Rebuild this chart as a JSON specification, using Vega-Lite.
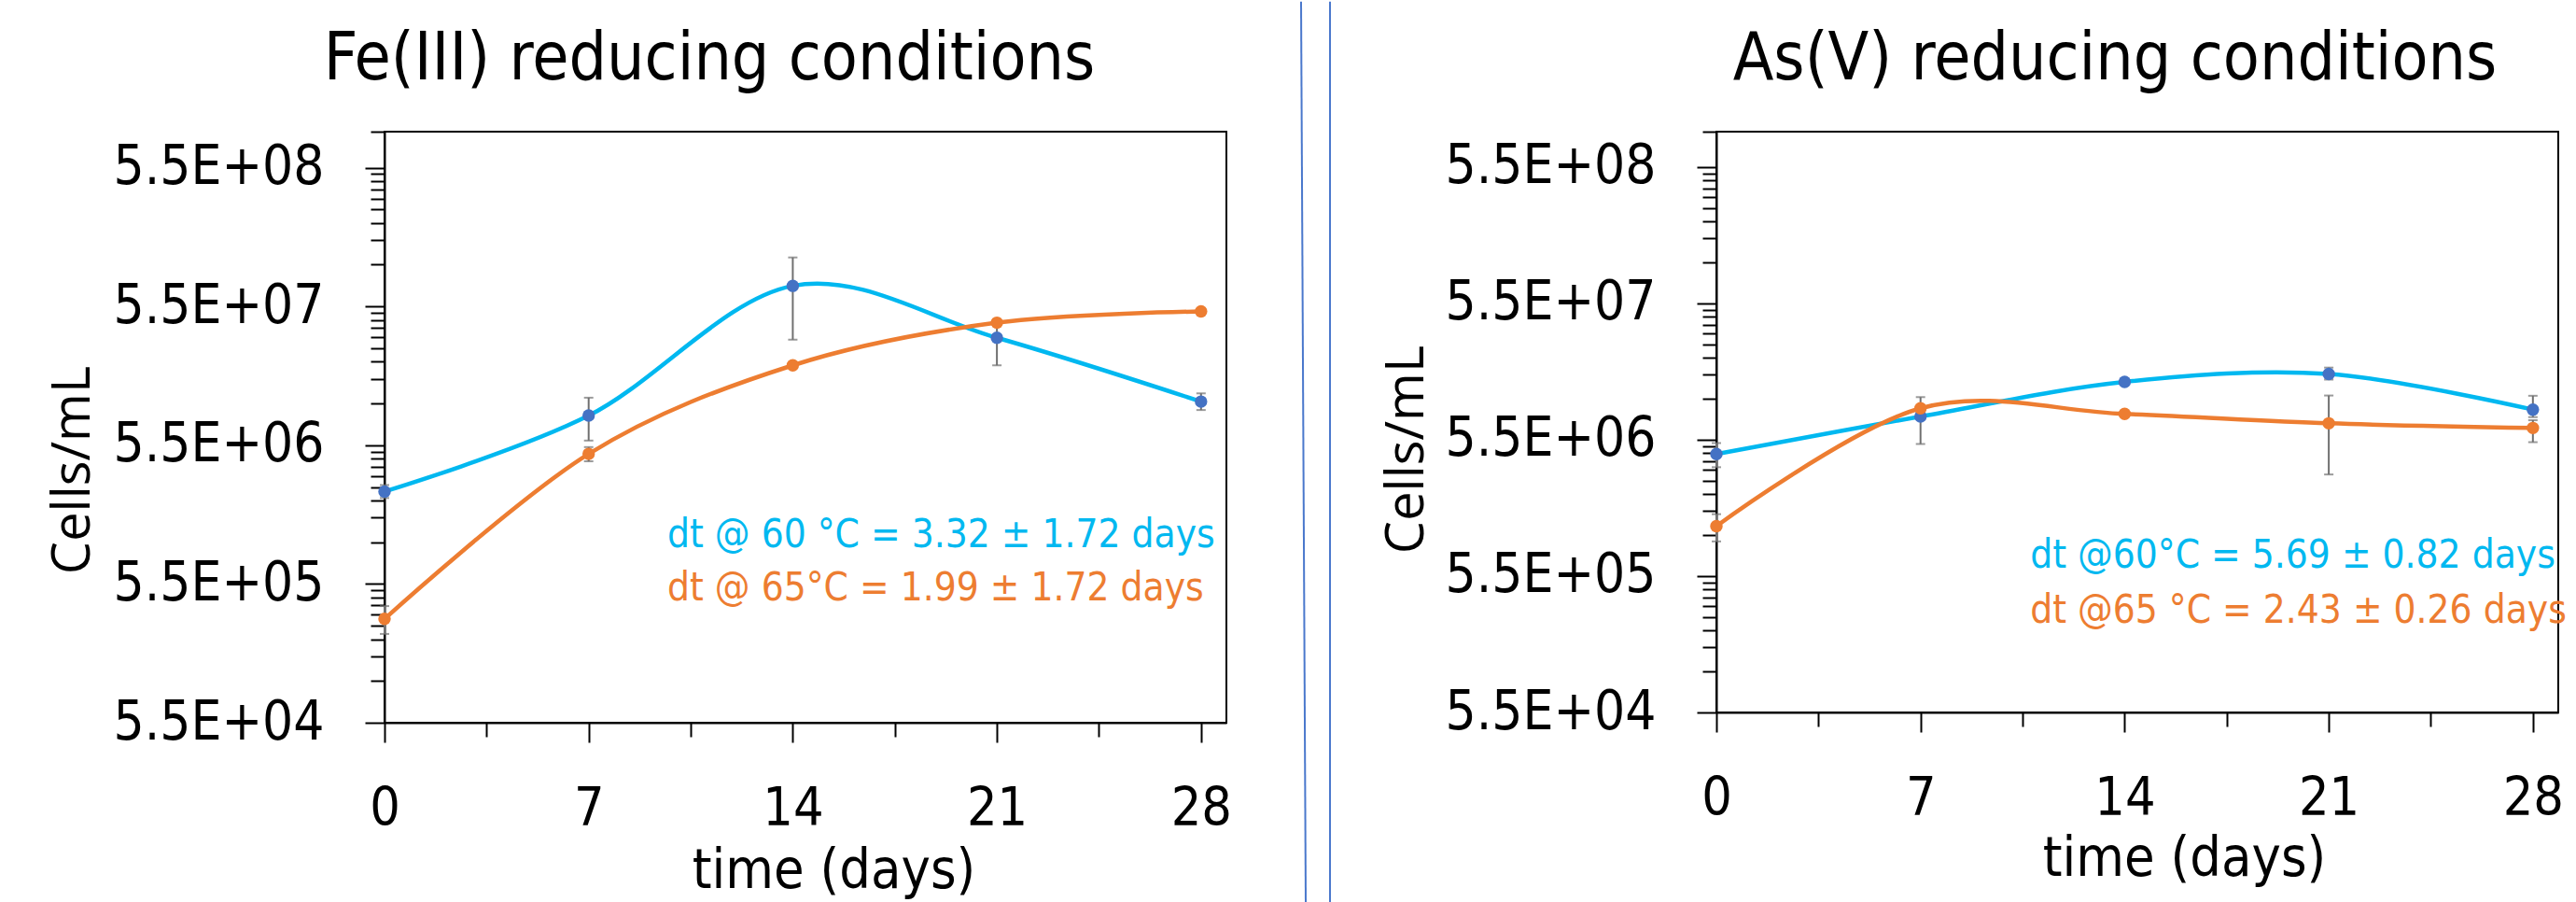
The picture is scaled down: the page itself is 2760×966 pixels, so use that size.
{
  "$schema": "https://vega.github.io/schema/vega-lite/v6.json",
  "background": "white",
  "padding": {"left": 49, "top": 0, "right": 0, "bottom": 0},
  "config": {
    "font": "DejaVu Sans Condensed",
    "view": {"stroke": "black", "strokeWidth": 2},
    "axis": {"grid": false, "domainColor": "black", "domainWidth": 2, "tickColor": "black", "tickWidth": 2, "labelColor": "black", "titleColor": "black", "labelFont": "DejaVu Sans Condensed", "labelFontSize": 56, "labelLimit": 500, "labelFlush": false, "labelOverlap": false, "titleFontWeight": "normal"},
    "title": {"fontWeight": "normal", "color": "black"},
    "concat": {"spacing": 20}
  },
  "datasets": {
    "fe": [
      {"temp": "60", "day": 0, "cells": 2550000, "lo": 2290000, "hi": 2840000},
      {"temp": "60", "day": 7, "cells": 8990000, "lo": 5940000, "hi": 12100000},
      {"temp": "60", "day": 14, "cells": 77400000, "lo": 31700000, "hi": 124000000},
      {"temp": "60", "day": 21, "cells": 32700000, "lo": 20700000, "hi": 42500000},
      {"temp": "60", "day": 28, "cells": 11340000, "lo": 9860000, "hi": 13000000},
      {"temp": "65", "day": 0, "cells": 308000, "lo": 240000, "hi": 381000},
      {"temp": "65", "day": 7, "cells": 4760000, "lo": 4210000, "hi": 5330000},
      {"temp": "65", "day": 14, "cells": 20700000, "lo": 20000000, "hi": 21400000},
      {"temp": "65", "day": 21, "cells": 42000000, "lo": 41000000, "hi": 43000000},
      {"temp": "65", "day": 28, "cells": 50600000, "lo": 49500000, "hi": 51700000}
    ],
    "as": [
      {"temp": "60", "day": 0, "cells": 4320000, "lo": 3460000, "hi": 5200000},
      {"temp": "60", "day": 7, "cells": 8150000, "lo": 5120000, "hi": 11300000},
      {"temp": "60", "day": 14, "cells": 14600000, "lo": 14100000, "hi": 15100000},
      {"temp": "60", "day": 21, "cells": 16700000, "lo": 15200000, "hi": 18600000},
      {"temp": "60", "day": 28, "cells": 9150000, "lo": 8060000, "hi": 11560000},
      {"temp": "65", "day": 0, "cells": 1279000, "lo": 988000, "hi": 1565000},
      {"temp": "65", "day": 7, "cells": 9360000, "lo": 9000000, "hi": 9700000},
      {"temp": "65", "day": 14, "cells": 8510000, "lo": 8250000, "hi": 8770000},
      {"temp": "65", "day": 21, "cells": 7260000, "lo": 3060000, "hi": 11610000},
      {"temp": "65", "day": 28, "cells": 6710000, "lo": 5280000, "hi": 7650000}
    ],
    "fe_text": [
      {"temp": "60", "day": 9.7, "cells": 1016000, "label": "dt @ 60 °C = 3.32  ± 1.72 days"},
      {"temp": "65", "day": 9.7, "cells": 416000, "label": "dt @ 65°C = 1.99 ± 1.72 days"}
    ],
    "as_text": [
      {"temp": "60", "day": 10.76, "cells": 630000, "label": "dt @60°C = 5.69 ± 0.82 days"},
      {"temp": "65", "day": 10.76, "cells": 251000, "label": "dt @65 °C = 2.43  ± 0.26 days"}
    ]
  },
  "hconcat": [
    {
      "width": 902,
      "height": 633,
      "title": {"text": "Fe(III) reducing conditions", "fontSize": 71, "baseline": "alphabetic", "offset": -16, "dx": -103, "anchor": "middle", "frame": "group"},
      "data": {"name": "fe"},
      "resolve": {"axis": {"x": "independent", "y": "independent"}, "scale": {"color": "independent"}},
      "layer": [
        {
          "mark": {"type": "errorbar", "ticks": {"size": 10, "thickness": 2}, "thickness": 2, "color": "#707070"},
          "encoding": {
            "x": {"field": "day", "type": "quantitative", "scale": {"domain": [0, 28.87], "nice": false, "zero": false}, "axis": null},
            "y": {"field": "lo", "type": "quantitative", "scale": {"type": "log", "domain": [55000, 1000000000], "nice": false}, "axis": null},
            "y2": {"field": "hi"}
          }
        },
        {
          "mark": {"type": "line", "interpolate": "cardinal", "strokeWidth": 4.5},
          "encoding": {
            "x": {"field": "day", "type": "quantitative", "scale": {"domain": [0, 28.87], "nice": false, "zero": false},
              "axis": {"values": [0, 7, 14, 21, 28], "tickSize": 21, "labelPadding": 43, "labelFontSize": 57, "title": "time (days)", "titleFontSize": 59, "titleX": 481, "titleY": 176, "titleBaseline": "alphabetic", "titleAlign": "center"}},
            "y": {"field": "cells", "type": "quantitative", "scale": {"type": "log", "domain": [55000, 1000000000], "nice": false},
              "axis": {"values": [55000, 550000, 5500000, 55000000, 550000000], "tickSize": 21, "labelPadding": 44, "labelFontSize": 58, "labelExpr": "'5.5E+0' + round(log(datum.value / 5.5) / LN10)", "title": "Cells/mL", "titleFont": "Open Sans", "titleFontSize": 56, "titleX": -317, "titleY": 362, "titleBaseline": "alphabetic", "titleAlign": "center", "titleAngle": -90}},
            "color": {"field": "temp", "type": "nominal", "scale": {"domain": ["60", "65"], "range": ["#00B8F0", "#ED7D31"]}, "legend": null}
          }
        },
        {
          "mark": {"type": "circle", "size": 180, "opacity": 1},
          "encoding": {
            "x": {"field": "day", "type": "quantitative", "scale": {"domain": [0, 28.87], "nice": false, "zero": false},
              "axis": {"orient": "bottom", "values": [3.5, 10.5, 17.5, 24.5], "tickSize": 15, "labels": false, "domain": false, "title": null}},
            "y": {"field": "cells", "type": "quantitative", "scale": {"type": "log", "domain": [55000, 1000000000], "nice": false},
              "axis": {"orient": "left", "values": [110000, 165000, 220000, 275000, 330000, 385000, 440000, 495000, 1100000, 1650000, 2200000, 2750000, 3300000, 3850000, 4400000, 4950000, 11000000, 16500000, 22000000, 27500000, 33000000, 38500000, 44000000, 49500000, 110000000, 165000000, 220000000, 275000000, 330000000, 385000000, 440000000, 495000000, 1000000000], "tickSize": 15, "labels": false, "domain": false, "title": null}},
            "color": {"field": "temp", "type": "nominal", "scale": {"domain": ["60", "65"], "range": ["#4472C4", "#ED7D31"]}, "legend": null}
          }
        },
        {
          "data": {"name": "fe_text"},
          "mark": {"type": "text", "align": "left", "baseline": "alphabetic", "fontSize": 42},
          "encoding": {
            "x": {"field": "day", "type": "quantitative", "scale": {"domain": [0, 28.87], "nice": false, "zero": false}, "axis": null},
            "y": {"field": "cells", "type": "quantitative", "scale": {"type": "log", "domain": [55000, 1000000000], "nice": false}, "axis": null},
            "text": {"field": "label"},
            "color": {"field": "temp", "type": "nominal", "scale": {"domain": ["60", "65"], "range": ["#00B8F0", "#ED7D31"]}, "legend": null}
          }
        }
      ]
    },
    {
      "width": 117,
      "height": 633,
      "view": {"stroke": null},
      "data": {"values": [{}]},
      "layer": [
        {
          "mark": {"type": "rule", "color": "#4a78cc", "strokeWidth": 2},
          "encoding": {
            "x": {"datum": 58, "type": "quantitative", "scale": {"domain": [0, 117], "nice": false, "zero": false}, "axis": null},
            "x2": {"datum": 53},
            "y": {"datum": -193.7, "type": "quantitative", "scale": {"domain": [0, 633], "nice": false, "zero": false}, "axis": null},
            "y2": {"datum": 772.3}
          }
        },
        {
          "mark": {"type": "rule", "color": "#4a78cc", "strokeWidth": 2},
          "encoding": {
            "x": {"datum": 84, "type": "quantitative", "scale": {"domain": [0, 117], "nice": false, "zero": false}, "axis": null},
            "y": {"datum": -193.7, "type": "quantitative", "scale": {"domain": [0, 633], "nice": false, "zero": false}, "axis": null},
            "y2": {"datum": 772.3}
          }
        }
      ]
    },
    {
      "width": 902,
      "height": 622,
      "title": {"text": "As(V) reducing conditions", "fontSize": 71, "baseline": "alphabetic", "offset": -16, "dx": -24, "anchor": "middle", "frame": "group"},
      "data": {"name": "as"},
      "resolve": {"axis": {"x": "independent", "y": "independent"}, "scale": {"color": "independent"}},
      "layer": [
        {
          "mark": {"type": "errorbar", "ticks": {"size": 10, "thickness": 2}, "thickness": 2, "color": "#707070"},
          "encoding": {
            "x": {"field": "day", "type": "quantitative", "scale": {"domain": [0, 28.87], "nice": false, "zero": false}, "axis": null},
            "y": {"field": "lo", "type": "quantitative", "scale": {"type": "log", "domain": [55000, 1000000000], "nice": false}, "axis": null},
            "y2": {"field": "hi"}
          }
        },
        {
          "mark": {"type": "line", "interpolate": "cardinal", "strokeWidth": 4.5},
          "encoding": {
            "x": {"field": "day", "type": "quantitative", "scale": {"domain": [0, 28.87], "nice": false, "zero": false},
              "axis": {"values": [0, 7, 14, 21, 28], "tickSize": 21, "labelPadding": 43, "labelFontSize": 57, "title": "time (days)", "titleFontSize": 59, "titleX": 501, "titleY": 174, "titleBaseline": "alphabetic", "titleAlign": "center"}},
            "y": {"field": "cells", "type": "quantitative", "scale": {"type": "log", "domain": [55000, 1000000000], "nice": false},
              "axis": {"values": [55000, 550000, 5500000, 55000000, 550000000], "tickSize": 21, "labelPadding": 44, "labelFontSize": 58, "labelExpr": "'5.5E+0' + round(log(datum.value / 5.5) / LN10)", "title": "Cells/mL", "titleFont": "Open Sans", "titleFontSize": 56, "titleX": -315, "titleY": 340, "titleBaseline": "alphabetic", "titleAlign": "center", "titleAngle": -90}},
            "color": {"field": "temp", "type": "nominal", "scale": {"domain": ["60", "65"], "range": ["#00B8F0", "#ED7D31"]}, "legend": null}
          }
        },
        {
          "mark": {"type": "circle", "size": 180, "opacity": 1},
          "encoding": {
            "x": {"field": "day", "type": "quantitative", "scale": {"domain": [0, 28.87], "nice": false, "zero": false},
              "axis": {"orient": "bottom", "values": [3.5, 10.5, 17.5, 24.5], "tickSize": 15, "labels": false, "domain": false, "title": null}},
            "y": {"field": "cells", "type": "quantitative", "scale": {"type": "log", "domain": [55000, 1000000000], "nice": false},
              "axis": {"orient": "left", "values": [110000, 165000, 220000, 275000, 330000, 385000, 440000, 495000, 1100000, 1650000, 2200000, 2750000, 3300000, 3850000, 4400000, 4950000, 11000000, 16500000, 22000000, 27500000, 33000000, 38500000, 44000000, 49500000, 110000000, 165000000, 220000000, 275000000, 330000000, 385000000, 440000000, 495000000, 1000000000], "tickSize": 15, "labels": false, "domain": false, "title": null}},
            "color": {"field": "temp", "type": "nominal", "scale": {"domain": ["60", "65"], "range": ["#4472C4", "#ED7D31"]}, "legend": null}
          }
        },
        {
          "data": {"name": "as_text"},
          "mark": {"type": "text", "align": "left", "baseline": "alphabetic", "fontSize": 42},
          "encoding": {
            "x": {"field": "day", "type": "quantitative", "scale": {"domain": [0, 28.87], "nice": false, "zero": false}, "axis": null},
            "y": {"field": "cells", "type": "quantitative", "scale": {"type": "log", "domain": [55000, 1000000000], "nice": false}, "axis": null},
            "text": {"field": "label"},
            "color": {"field": "temp", "type": "nominal", "scale": {"domain": ["60", "65"], "range": ["#00B8F0", "#ED7D31"]}, "legend": null}
          }
        }
      ]
    }
  ]
}
